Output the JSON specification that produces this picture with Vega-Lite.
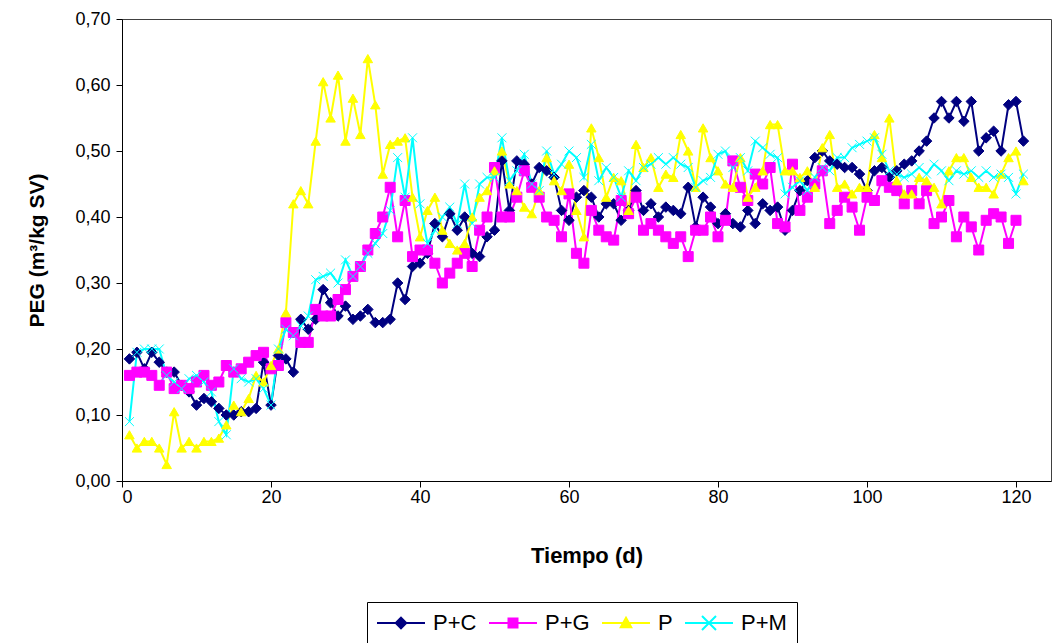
{
  "$schema": "https://vega.github.io/schema/vega-lite/v6.json",
  "width": 929,
  "height": 462,
  "autosize": {"type": "none"},
  "padding": {"left": 122, "top": 19, "right": 1, "bottom": 162},
  "background": "white",
  "config": {
    "view": {"stroke": "#404040", "strokeWidth": 1},
    "font": "Liberation Sans",
    "axis": {
      "grid": false,
      "domainColor": "black",
      "tickColor": "black",
      "tickSize": 6,
      "labelFont": "Liberation Sans",
      "labelFontSize": 18,
      "labelColor": "black",
      "titleFont": "Liberation Sans",
      "titleFontWeight": "bold",
      "titleColor": "black"
    }
  },
  "data": {"values": [
{"d":1,"s":"P+C","v":0.185},{"d":2,"s":"P+C","v":0.195},{"d":3,"s":"P+C","v":0.17},{"d":4,"s":"P+C","v":0.195},{"d":5,"s":"P+C","v":0.18},{"d":6,"s":"P+C","v":0.165},{"d":7,"s":"P+C","v":0.165},{"d":8,"s":"P+C","v":0.145},{"d":9,"s":"P+C","v":0.135},{"d":10,"s":"P+C","v":0.115},
{"d":11,"s":"P+C","v":0.125},{"d":12,"s":"P+C","v":0.12},{"d":13,"s":"P+C","v":0.11},{"d":14,"s":"P+C","v":0.1},{"d":15,"s":"P+C","v":0.1},{"d":16,"s":"P+C","v":0.105},{"d":17,"s":"P+C","v":0.105},{"d":18,"s":"P+C","v":0.11},{"d":19,"s":"P+C","v":0.18},{"d":20,"s":"P+C","v":0.115},
{"d":21,"s":"P+C","v":0.19},{"d":22,"s":"P+C","v":0.185},{"d":23,"s":"P+C","v":0.165},{"d":24,"s":"P+C","v":0.245},{"d":25,"s":"P+C","v":0.23},{"d":26,"s":"P+C","v":0.245},{"d":27,"s":"P+C","v":0.29},{"d":28,"s":"P+C","v":0.27},{"d":29,"s":"P+C","v":0.25},{"d":30,"s":"P+C","v":0.265},
{"d":31,"s":"P+C","v":0.245},{"d":32,"s":"P+C","v":0.25},{"d":33,"s":"P+C","v":0.26},{"d":34,"s":"P+C","v":0.24},{"d":35,"s":"P+C","v":0.24},{"d":36,"s":"P+C","v":0.245},{"d":37,"s":"P+C","v":0.3},{"d":38,"s":"P+C","v":0.275},{"d":39,"s":"P+C","v":0.325},{"d":40,"s":"P+C","v":0.33},
{"d":41,"s":"P+C","v":0.345},{"d":42,"s":"P+C","v":0.39},{"d":43,"s":"P+C","v":0.37},{"d":44,"s":"P+C","v":0.405},{"d":45,"s":"P+C","v":0.38},{"d":46,"s":"P+C","v":0.4},{"d":47,"s":"P+C","v":0.345},{"d":48,"s":"P+C","v":0.34},{"d":49,"s":"P+C","v":0.37},{"d":50,"s":"P+C","v":0.38},
{"d":51,"s":"P+C","v":0.485},{"d":52,"s":"P+C","v":0.41},{"d":53,"s":"P+C","v":0.485},{"d":54,"s":"P+C","v":0.48},{"d":55,"s":"P+C","v":0.45},{"d":56,"s":"P+C","v":0.475},{"d":57,"s":"P+C","v":0.47},{"d":58,"s":"P+C","v":0.46},{"d":59,"s":"P+C","v":0.41},{"d":60,"s":"P+C","v":0.395},
{"d":61,"s":"P+C","v":0.43},{"d":62,"s":"P+C","v":0.44},{"d":63,"s":"P+C","v":0.43},{"d":64,"s":"P+C","v":0.4},{"d":65,"s":"P+C","v":0.42},{"d":66,"s":"P+C","v":0.42},{"d":67,"s":"P+C","v":0.395},{"d":68,"s":"P+C","v":0.41},{"d":69,"s":"P+C","v":0.44},{"d":70,"s":"P+C","v":0.41},
{"d":71,"s":"P+C","v":0.42},{"d":72,"s":"P+C","v":0.4},{"d":73,"s":"P+C","v":0.415},{"d":74,"s":"P+C","v":0.41},{"d":75,"s":"P+C","v":0.405},{"d":76,"s":"P+C","v":0.445},{"d":77,"s":"P+C","v":0.385},{"d":78,"s":"P+C","v":0.43},{"d":79,"s":"P+C","v":0.415},{"d":80,"s":"P+C","v":0.39},
{"d":81,"s":"P+C","v":0.405},{"d":82,"s":"P+C","v":0.39},{"d":83,"s":"P+C","v":0.385},{"d":84,"s":"P+C","v":0.41},{"d":85,"s":"P+C","v":0.39},{"d":86,"s":"P+C","v":0.42},{"d":87,"s":"P+C","v":0.41},{"d":88,"s":"P+C","v":0.415},{"d":89,"s":"P+C","v":0.38},{"d":90,"s":"P+C","v":0.41},
{"d":91,"s":"P+C","v":0.44},{"d":92,"s":"P+C","v":0.455},{"d":93,"s":"P+C","v":0.49},{"d":94,"s":"P+C","v":0.5},{"d":95,"s":"P+C","v":0.485},{"d":96,"s":"P+C","v":0.48},{"d":97,"s":"P+C","v":0.475},{"d":98,"s":"P+C","v":0.475},{"d":99,"s":"P+C","v":0.465},{"d":100,"s":"P+C","v":0.44},
{"d":101,"s":"P+C","v":0.47},{"d":102,"s":"P+C","v":0.475},{"d":103,"s":"P+C","v":0.46},{"d":104,"s":"P+C","v":0.47},{"d":105,"s":"P+C","v":0.48},{"d":106,"s":"P+C","v":0.485},{"d":107,"s":"P+C","v":0.5},{"d":108,"s":"P+C","v":0.515},{"d":109,"s":"P+C","v":0.55},{"d":110,"s":"P+C","v":0.575},
{"d":111,"s":"P+C","v":0.55},{"d":112,"s":"P+C","v":0.575},{"d":113,"s":"P+C","v":0.545},{"d":114,"s":"P+C","v":0.575},{"d":115,"s":"P+C","v":0.5},{"d":116,"s":"P+C","v":0.52},{"d":117,"s":"P+C","v":0.53},{"d":118,"s":"P+C","v":0.5},{"d":119,"s":"P+C","v":0.57},{"d":120,"s":"P+C","v":0.575},{"d":121,"s":"P+C","v":0.515},

{"d":1,"s":"P+G","v":0.16},{"d":2,"s":"P+G","v":0.165},{"d":3,"s":"P+G","v":0.165},{"d":4,"s":"P+G","v":0.16},{"d":5,"s":"P+G","v":0.145},{"d":6,"s":"P+G","v":0.165},{"d":7,"s":"P+G","v":0.14},{"d":8,"s":"P+G","v":0.145},{"d":9,"s":"P+G","v":0.14},{"d":10,"s":"P+G","v":0.15},
{"d":11,"s":"P+G","v":0.16},{"d":12,"s":"P+G","v":0.145},{"d":13,"s":"P+G","v":0.15},{"d":14,"s":"P+G","v":0.175},{"d":15,"s":"P+G","v":0.165},{"d":16,"s":"P+G","v":0.17},{"d":17,"s":"P+G","v":0.18},{"d":18,"s":"P+G","v":0.19},{"d":19,"s":"P+G","v":0.195},{"d":20,"s":"P+G","v":0.17},
{"d":21,"s":"P+G","v":0.175},{"d":22,"s":"P+G","v":0.24},{"d":23,"s":"P+G","v":0.225},{"d":24,"s":"P+G","v":0.21},{"d":25,"s":"P+G","v":0.21},{"d":26,"s":"P+G","v":0.26},{"d":27,"s":"P+G","v":0.25},{"d":28,"s":"P+G","v":0.25},{"d":29,"s":"P+G","v":0.275},{"d":30,"s":"P+G","v":0.29},
{"d":31,"s":"P+G","v":0.31},{"d":32,"s":"P+G","v":0.325},{"d":33,"s":"P+G","v":0.35},{"d":34,"s":"P+G","v":0.375},{"d":35,"s":"P+G","v":0.4},{"d":36,"s":"P+G","v":0.445},{"d":37,"s":"P+G","v":0.37},{"d":38,"s":"P+G","v":0.425},{"d":39,"s":"P+G","v":0.34},{"d":40,"s":"P+G","v":0.35},
{"d":41,"s":"P+G","v":0.35},{"d":42,"s":"P+G","v":0.33},{"d":43,"s":"P+G","v":0.3},{"d":44,"s":"P+G","v":0.315},{"d":45,"s":"P+G","v":0.33},{"d":46,"s":"P+G","v":0.345},{"d":47,"s":"P+G","v":0.325},{"d":48,"s":"P+G","v":0.38},{"d":49,"s":"P+G","v":0.4},{"d":50,"s":"P+G","v":0.475},
{"d":51,"s":"P+G","v":0.4},{"d":52,"s":"P+G","v":0.4},{"d":53,"s":"P+G","v":0.43},{"d":54,"s":"P+G","v":0.47},{"d":55,"s":"P+G","v":0.445},{"d":56,"s":"P+G","v":0.43},{"d":57,"s":"P+G","v":0.4},{"d":58,"s":"P+G","v":0.395},{"d":59,"s":"P+G","v":0.37},{"d":60,"s":"P+G","v":0.435},
{"d":61,"s":"P+G","v":0.345},{"d":62,"s":"P+G","v":0.33},{"d":63,"s":"P+G","v":0.41},{"d":64,"s":"P+G","v":0.38},{"d":65,"s":"P+G","v":0.37},{"d":66,"s":"P+G","v":0.365},{"d":67,"s":"P+G","v":0.425},{"d":68,"s":"P+G","v":0.405},{"d":69,"s":"P+G","v":0.43},{"d":70,"s":"P+G","v":0.38},
{"d":71,"s":"P+G","v":0.39},{"d":72,"s":"P+G","v":0.38},{"d":73,"s":"P+G","v":0.37},{"d":74,"s":"P+G","v":0.36},{"d":75,"s":"P+G","v":0.37},{"d":76,"s":"P+G","v":0.34},{"d":77,"s":"P+G","v":0.38},{"d":78,"s":"P+G","v":0.38},{"d":79,"s":"P+G","v":0.4},{"d":80,"s":"P+G","v":0.37},
{"d":81,"s":"P+G","v":0.395},{"d":82,"s":"P+G","v":0.485},{"d":83,"s":"P+G","v":0.445},{"d":84,"s":"P+G","v":0.425},{"d":85,"s":"P+G","v":0.465},{"d":86,"s":"P+G","v":0.45},{"d":87,"s":"P+G","v":0.475},{"d":88,"s":"P+G","v":0.39},{"d":89,"s":"P+G","v":0.385},{"d":90,"s":"P+G","v":0.48},
{"d":91,"s":"P+G","v":0.41},{"d":92,"s":"P+G","v":0.43},{"d":93,"s":"P+G","v":0.45},{"d":94,"s":"P+G","v":0.47},{"d":95,"s":"P+G","v":0.39},{"d":96,"s":"P+G","v":0.41},{"d":97,"s":"P+G","v":0.43},{"d":98,"s":"P+G","v":0.415},{"d":99,"s":"P+G","v":0.38},{"d":100,"s":"P+G","v":0.43},
{"d":101,"s":"P+G","v":0.425},{"d":102,"s":"P+G","v":0.455},{"d":103,"s":"P+G","v":0.445},{"d":104,"s":"P+G","v":0.44},{"d":105,"s":"P+G","v":0.42},{"d":106,"s":"P+G","v":0.44},{"d":107,"s":"P+G","v":0.42},{"d":108,"s":"P+G","v":0.44},{"d":109,"s":"P+G","v":0.39},{"d":110,"s":"P+G","v":0.4},
{"d":111,"s":"P+G","v":0.425},{"d":112,"s":"P+G","v":0.37},{"d":113,"s":"P+G","v":0.4},{"d":114,"s":"P+G","v":0.385},{"d":115,"s":"P+G","v":0.35},{"d":116,"s":"P+G","v":0.395},{"d":117,"s":"P+G","v":0.405},{"d":118,"s":"P+G","v":0.4},{"d":119,"s":"P+G","v":0.36},{"d":120,"s":"P+G","v":0.395},

{"d":1,"s":"P","v":0.07},{"d":2,"s":"P","v":0.05},{"d":3,"s":"P","v":0.06},{"d":4,"s":"P","v":0.06},{"d":5,"s":"P","v":0.05},{"d":6,"s":"P","v":0.025},{"d":7,"s":"P","v":0.105},{"d":8,"s":"P","v":0.05},{"d":9,"s":"P","v":0.06},{"d":10,"s":"P","v":0.05},
{"d":11,"s":"P","v":0.06},{"d":12,"s":"P","v":0.06},{"d":13,"s":"P","v":0.065},{"d":14,"s":"P","v":0.085},{"d":15,"s":"P","v":0.115},{"d":16,"s":"P","v":0.105},{"d":17,"s":"P","v":0.125},{"d":18,"s":"P","v":0.16},{"d":19,"s":"P","v":0.15},{"d":20,"s":"P","v":0.175},
{"d":21,"s":"P","v":0.2},{"d":22,"s":"P","v":0.255},{"d":23,"s":"P","v":0.42},{"d":24,"s":"P","v":0.44},{"d":25,"s":"P","v":0.42},{"d":26,"s":"P","v":0.515},{"d":27,"s":"P","v":0.605},{"d":28,"s":"P","v":0.55},{"d":29,"s":"P","v":0.615},{"d":30,"s":"P","v":0.515},
{"d":31,"s":"P","v":0.58},{"d":32,"s":"P","v":0.525},{"d":33,"s":"P","v":0.64},{"d":34,"s":"P","v":0.57},{"d":35,"s":"P","v":0.465},{"d":36,"s":"P","v":0.51},{"d":37,"s":"P","v":0.515},{"d":38,"s":"P","v":0.52},{"d":39,"s":"P","v":0.43},{"d":40,"s":"P","v":0.37},
{"d":41,"s":"P","v":0.41},{"d":42,"s":"P","v":0.43},{"d":43,"s":"P","v":0.38},{"d":44,"s":"P","v":0.36},{"d":45,"s":"P","v":0.35},{"d":46,"s":"P","v":0.36},{"d":47,"s":"P","v":0.4},{"d":48,"s":"P","v":0.43},{"d":49,"s":"P","v":0.44},{"d":50,"s":"P","v":0.47},
{"d":51,"s":"P","v":0.5},{"d":52,"s":"P","v":0.45},{"d":53,"s":"P","v":0.44},{"d":54,"s":"P","v":0.415},{"d":55,"s":"P","v":0.405},{"d":56,"s":"P","v":0.44},{"d":57,"s":"P","v":0.49},{"d":58,"s":"P","v":0.455},{"d":59,"s":"P","v":0.44},{"d":60,"s":"P","v":0.48},
{"d":61,"s":"P","v":0.41},{"d":62,"s":"P","v":0.37},{"d":63,"s":"P","v":0.535},{"d":64,"s":"P","v":0.49},{"d":65,"s":"P","v":0.43},{"d":66,"s":"P","v":0.46},{"d":67,"s":"P","v":0.455},{"d":68,"s":"P","v":0.41},{"d":69,"s":"P","v":0.51},{"d":70,"s":"P","v":0.475},
{"d":71,"s":"P","v":0.49},{"d":72,"s":"P","v":0.445},{"d":73,"s":"P","v":0.465},{"d":74,"s":"P","v":0.46},{"d":75,"s":"P","v":0.525},{"d":76,"s":"P","v":0.5},{"d":77,"s":"P","v":0.445},{"d":78,"s":"P","v":0.535},{"d":79,"s":"P","v":0.49},{"d":80,"s":"P","v":0.47},
{"d":81,"s":"P","v":0.45},{"d":82,"s":"P","v":0.445},{"d":83,"s":"P","v":0.49},{"d":84,"s":"P","v":0.43},{"d":85,"s":"P","v":0.445},{"d":86,"s":"P","v":0.47},{"d":87,"s":"P","v":0.54},{"d":88,"s":"P","v":0.54},{"d":89,"s":"P","v":0.47},{"d":90,"s":"P","v":0.47},
{"d":91,"s":"P","v":0.46},{"d":92,"s":"P","v":0.47},{"d":93,"s":"P","v":0.445},{"d":94,"s":"P","v":0.505},{"d":95,"s":"P","v":0.525},{"d":96,"s":"P","v":0.445},{"d":97,"s":"P","v":0.45},{"d":98,"s":"P","v":0.435},{"d":99,"s":"P","v":0.445},{"d":100,"s":"P","v":0.445},
{"d":101,"s":"P","v":0.525},{"d":102,"s":"P","v":0.49},{"d":103,"s":"P","v":0.55},{"d":104,"s":"P","v":0.455},{"d":105,"s":"P","v":0.435},{"d":106,"s":"P","v":0.435},{"d":107,"s":"P","v":0.46},{"d":108,"s":"P","v":0.455},{"d":109,"s":"P","v":0.445},{"d":110,"s":"P","v":0.42},
{"d":111,"s":"P","v":0.47},{"d":112,"s":"P","v":0.49},{"d":113,"s":"P","v":0.49},{"d":114,"s":"P","v":0.46},{"d":115,"s":"P","v":0.445},{"d":116,"s":"P","v":0.445},{"d":117,"s":"P","v":0.435},{"d":118,"s":"P","v":0.465},{"d":119,"s":"P","v":0.49},{"d":120,"s":"P","v":0.5},{"d":121,"s":"P","v":0.455},

{"d":1,"s":"P+M","v":0.09},{"d":2,"s":"P+M","v":0.195},{"d":3,"s":"P+M","v":0.2},{"d":4,"s":"P+M","v":0.2},{"d":5,"s":"P+M","v":0.2},{"d":6,"s":"P+M","v":0.16},{"d":7,"s":"P+M","v":0.15},{"d":8,"s":"P+M","v":0.14},{"d":9,"s":"P+M","v":0.155},{"d":10,"s":"P+M","v":0.16},
{"d":11,"s":"P+M","v":0.15},{"d":12,"s":"P+M","v":0.135},{"d":13,"s":"P+M","v":0.09},{"d":14,"s":"P+M","v":0.07},{"d":15,"s":"P+M","v":0.17},{"d":16,"s":"P+M","v":0.155},{"d":17,"s":"P+M","v":0.15},{"d":18,"s":"P+M","v":0.155},{"d":19,"s":"P+M","v":0.14},{"d":20,"s":"P+M","v":0.115},
{"d":21,"s":"P+M","v":0.2},{"d":22,"s":"P+M","v":0.23},{"d":23,"s":"P+M","v":0.22},{"d":24,"s":"P+M","v":0.235},{"d":25,"s":"P+M","v":0.25},{"d":26,"s":"P+M","v":0.305},{"d":27,"s":"P+M","v":0.31},{"d":28,"s":"P+M","v":0.315},{"d":29,"s":"P+M","v":0.3},{"d":30,"s":"P+M","v":0.335},
{"d":31,"s":"P+M","v":0.31},{"d":32,"s":"P+M","v":0.325},{"d":33,"s":"P+M","v":0.345},{"d":34,"s":"P+M","v":0.36},{"d":35,"s":"P+M","v":0.375},{"d":36,"s":"P+M","v":0.41},{"d":37,"s":"P+M","v":0.49},{"d":38,"s":"P+M","v":0.43},{"d":39,"s":"P+M","v":0.52},{"d":40,"s":"P+M","v":0.42},
{"d":41,"s":"P+M","v":0.36},{"d":42,"s":"P+M","v":0.38},{"d":43,"s":"P+M","v":0.4},{"d":44,"s":"P+M","v":0.415},{"d":45,"s":"P+M","v":0.39},{"d":46,"s":"P+M","v":0.45},{"d":47,"s":"P+M","v":0.39},{"d":48,"s":"P+M","v":0.45},{"d":49,"s":"P+M","v":0.46},{"d":50,"s":"P+M","v":0.46},
{"d":51,"s":"P+M","v":0.52},{"d":52,"s":"P+M","v":0.455},{"d":53,"s":"P+M","v":0.47},{"d":54,"s":"P+M","v":0.495},{"d":55,"s":"P+M","v":0.45},{"d":56,"s":"P+M","v":0.44},{"d":57,"s":"P+M","v":0.5},{"d":58,"s":"P+M","v":0.465},{"d":59,"s":"P+M","v":0.48},{"d":60,"s":"P+M","v":0.5},
{"d":61,"s":"P+M","v":0.49},{"d":62,"s":"P+M","v":0.46},{"d":63,"s":"P+M","v":0.51},{"d":64,"s":"P+M","v":0.455},{"d":65,"s":"P+M","v":0.475},{"d":66,"s":"P+M","v":0.46},{"d":67,"s":"P+M","v":0.43},{"d":68,"s":"P+M","v":0.47},{"d":69,"s":"P+M","v":0.455},{"d":70,"s":"P+M","v":0.475},
{"d":71,"s":"P+M","v":0.48},{"d":72,"s":"P+M","v":0.49},{"d":73,"s":"P+M","v":0.48},{"d":74,"s":"P+M","v":0.49},{"d":75,"s":"P+M","v":0.48},{"d":76,"s":"P+M","v":0.475},{"d":77,"s":"P+M","v":0.445},{"d":78,"s":"P+M","v":0.455},{"d":79,"s":"P+M","v":0.46},{"d":80,"s":"P+M","v":0.495},
{"d":81,"s":"P+M","v":0.5},{"d":82,"s":"P+M","v":0.475},{"d":83,"s":"P+M","v":0.49},{"d":84,"s":"P+M","v":0.47},{"d":85,"s":"P+M","v":0.515},{"d":86,"s":"P+M","v":0.505},{"d":87,"s":"P+M","v":0.495},{"d":88,"s":"P+M","v":0.49},{"d":89,"s":"P+M","v":0.435},{"d":90,"s":"P+M","v":0.445},
{"d":91,"s":"P+M","v":0.455},{"d":92,"s":"P+M","v":0.44},{"d":93,"s":"P+M","v":0.46},{"d":94,"s":"P+M","v":0.475},{"d":95,"s":"P+M","v":0.47},{"d":96,"s":"P+M","v":0.49},{"d":97,"s":"P+M","v":0.49},{"d":98,"s":"P+M","v":0.505},{"d":99,"s":"P+M","v":0.51},{"d":100,"s":"P+M","v":0.515},
{"d":101,"s":"P+M","v":0.52},{"d":102,"s":"P+M","v":0.495},{"d":103,"s":"P+M","v":0.47},{"d":104,"s":"P+M","v":0.465},{"d":105,"s":"P+M","v":0.46},{"d":106,"s":"P+M","v":0.465},{"d":107,"s":"P+M","v":0.475},{"d":108,"s":"P+M","v":0.465},{"d":109,"s":"P+M","v":0.48},{"d":110,"s":"P+M","v":0.47},
{"d":111,"s":"P+M","v":0.455},{"d":112,"s":"P+M","v":0.47},{"d":113,"s":"P+M","v":0.465},{"d":114,"s":"P+M","v":0.47},{"d":115,"s":"P+M","v":0.46},{"d":116,"s":"P+M","v":0.47},{"d":117,"s":"P+M","v":0.46},{"d":118,"s":"P+M","v":0.465},{"d":119,"s":"P+M","v":0.46},{"d":120,"s":"P+M","v":0.435},{"d":121,"s":"P+M","v":0.465}
  ]},
  "encoding": {
    "x": {
      "field": "d", "type": "quantitative",
      "scale": {"domain": [0, 124.7], "nice": false, "zero": false},
      "axis": {"values": [0, 20, 40, 60, 80, 100, 120], "title": "Tiempo (d)", "titleFontSize": 22, "labelPadding": 1, "titlePadding": 39}
    },
    "y": {
      "field": "v", "type": "quantitative",
      "scale": {"domain": [0, 0.7], "nice": false},
      "axis": {"values": [0, 0.1, 0.2, 0.3, 0.4, 0.5, 0.6, 0.7], "labelExpr": "replace(format(datum.value, '.2f'), '.', ',')", "title": "PEG (m³/kg SV)", "titleFontSize": 21, "labelPadding": 6, "titlePadding": 27}
    }
  },
  "layer": [
    {
      "mark": {"type": "line", "clip": true},
      "encoding": {
        "stroke": {"field": "s", "type": "nominal", "legend": null,
          "scale": {"domain": ["P+C", "P+G", "P", "P+M"], "range": ["#000080", "#FF00FF", "#FFFF00", "#00FFFF"]}},
        "strokeWidth": {"field": "s", "type": "nominal", "scale": {"domain": ["P+C", "P+G", "P", "P+M"], "range": [2, 2, 2, 3]},
          "legend": {"title": null, "orient": "none", "legendX": 245, "legendY": 583, "direction": "horizontal",
            "strokeColor": "black", "padding": 10, "labelFontSize": 22, "labelFont": "Liberation Sans", "labelColor": "black",
            "columnPadding": 8, "labelOffset": 21, "symbolOffset": 13, "symbolSize": 100,
            "encode": {"symbols": {"update": {
              "shape": {"signal": "datum.value === 'P+C' ? 'M-4.8,0L4.8,0M0,-1.05L1.05,0L0,1.05L-1.05,0Z' : datum.value === 'P+G' ? 'M-4.8,0L4.8,0M-0.9,-0.9L0.9,-0.9L0.9,0.9L-0.9,0.9Z' : datum.value === 'P' ? 'M-4.8,0L4.8,0M0,-1.05L1.05,0.85L-1.05,0.85Z' : 'M-4.8,0L4.8,0M-1.4,-1.4L1.4,1.4M-1.4,1.4L1.4,-1.4'"},
              "stroke": {"signal": "datum.value === 'P+C' ? '#000080' : datum.value === 'P+G' ? '#FF00FF' : datum.value === 'P' ? '#FFFF00' : '#00FFFF'"},
              "fill": {"signal": "datum.value === 'P+C' ? '#000080' : datum.value === 'P+G' ? '#FF00FF' : datum.value === 'P' ? '#FFFF00' : '#00FFFF'"},
              "size": {"value": 100},
              "opacity": {"value": 1}
            }}}
          }
        }
      }
    },
    {
      "mark": {"type": "point", "opacity": 1, "clip": true},
      "encoding": {
        "stroke": {"field": "s", "type": "nominal", "legend": null},
        "fill": {"field": "s", "type": "nominal", "legend": null,
          "scale": {"domain": ["P+C", "P+G", "P", "P+M"], "range": ["#000080", "#FF00FF", "#FFFF00", "#00FFFF"]}},
        "shape": {"field": "s", "type": "nominal", "legend": null,
          "scale": {"domain": ["P+C", "P+G", "P", "P+M"], "range": ["diamond", "square", "triangle-up", "M-1,-1L1,1M-1,1L1,-1"]}},
        "size": {"field": "s", "type": "nominal", "legend": null,
          "scale": {"domain": ["P+C", "P+G", "P", "P+M"], "range": [110, 80, 110, 200]}},
        "strokeWidth": {"field": "s", "type": "nominal", "scale": {"domain": ["P+C", "P+G", "P", "P+M"], "range": [1, 1, 1, 2.2]}, "legend": null}
      }
    }
  ],
  "resolve": {"scale": {"strokeWidth": "independent"}}
}
